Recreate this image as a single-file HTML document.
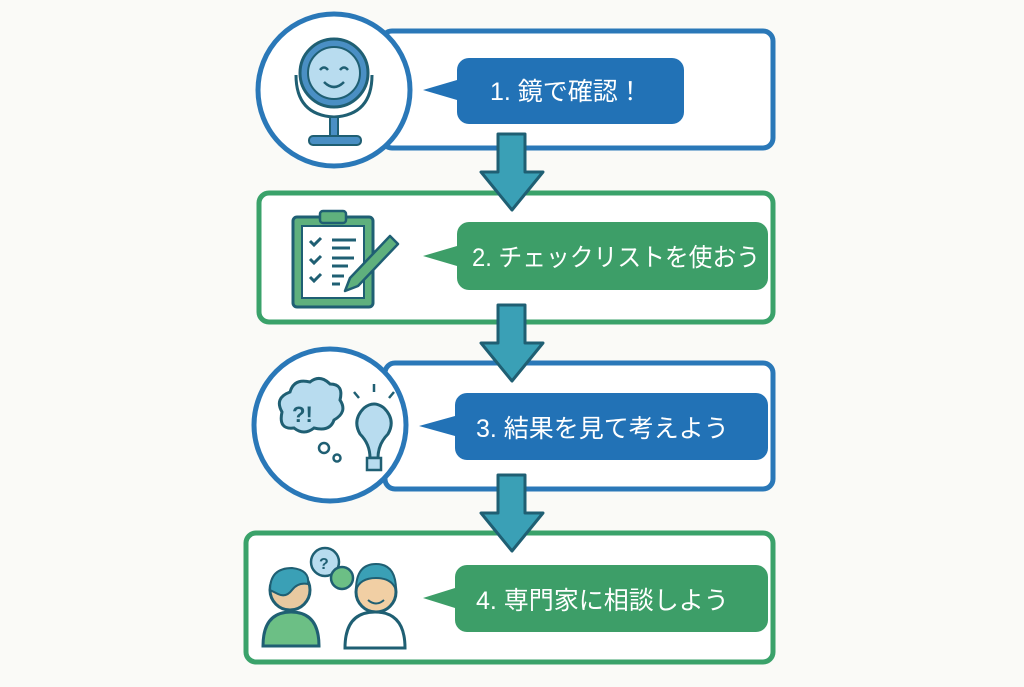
<!DOCTYPE html>
<html><head><meta charset="utf-8"><style>
html,body{margin:0;padding:0;background:#fafaf7;}
svg{display:block}
text{font-family:"Liberation Sans","Noto Sans CJK JP",sans-serif;font-weight:normal;fill:#fff;font-size:25px}
</style></head><body>
<svg width="1024" height="687" viewBox="0 0 1024 687">
<rect width="1024" height="687" fill="#fafaf7"/>
<rect x="382" y="31" width="391" height="117" rx="10" fill="#fff" stroke="#2a78b8" stroke-width="5"/>
<circle cx="334" cy="90" r="76" fill="#fff" stroke="#2a78b8" stroke-width="5"/>
<path d="M457 70 a12 12 0 0 1 12 -12 h203 a12 12 0 0 1 12 12 v42 a12 12 0 0 1 -12 12 h-203 a12 12 0 0 1 -12 -12 v-12 l-34 -10 l34 -10z" fill="#2272b6"/>
<text x="490" y="100">1. 鏡で確認！</text>
<path d="M296 75 q0 40 38 42 q38 -2 38 -42" fill="none" stroke="#1f5f73" stroke-width="3"/>
<circle cx="334" cy="73" r="34" fill="#4a8fc4" stroke="#1f5f73" stroke-width="3"/>
<circle cx="334" cy="73" r="26" fill="#b8dcef" stroke="#1f5f73" stroke-width="2"/>
<path d="M320 70 q4 -5 8 0 M340 70 q4 -5 8 0 M324 82 q10 10 20 0" fill="none" stroke="#1f5f73" stroke-width="2.5"/>
<rect x="330" y="117" width="8" height="20" fill="#4a8fc4" stroke="#1f5f73" stroke-width="2"/>
<rect x="309" y="136" width="52" height="9" rx="4" fill="#4a8fc4" stroke="#1f5f73" stroke-width="2"/>
<rect x="259" y="193" width="514" height="129" rx="10" fill="#fff" stroke="#3aa26a" stroke-width="5"/>
<path d="M457 234 a12 12 0 0 1 12 -12 h287 a12 12 0 0 1 12 12 v44 a12 12 0 0 1 -12 12 h-287 a12 12 0 0 1 -12 -12 v-12 l-34 -10 l34 -10z" fill="#3d9e68"/>
<text x="472" y="266" textLength="288" lengthAdjust="spacingAndGlyphs">2. チェックリストを使おう</text>
<rect x="293" y="217" width="80" height="90" rx="4" fill="#5fb07d" stroke="#1f5f73" stroke-width="3"/>
<rect x="302" y="226" width="62" height="72" fill="#fff" stroke="#1f5f73" stroke-width="2"/>
<rect x="320" y="211" width="26" height="12" rx="3" fill="#5fb07d" stroke="#1f5f73" stroke-width="2.5"/>
<path d="M310 241 l4 4 l7 -7 M310 259 l4 4 l7 -7 M310 277 l4 4 l7 -7 M332 240 h24 M332 248 h18 M332 258 h22 M332 266 h16 M332 276 h12 M332 284 h8" fill="none" stroke="#1f5f73" stroke-width="3"/>
<path d="M390 236 l8 8 l-40 42 l-13 5 l5 -13z" fill="#5fb07d" stroke="#1f5f73" stroke-width="2.5" stroke-linejoin="round"/>
<rect x="385" y="363" width="388" height="126" rx="10" fill="#fff" stroke="#2a78b8" stroke-width="5"/>
<circle cx="330" cy="425" r="76" fill="#fff" stroke="#2a78b8" stroke-width="5"/>
<path d="M455 405 a12 12 0 0 1 12 -12 h289 a12 12 0 0 1 12 12 v43 a12 12 0 0 1 -12 12 h-289 a12 12 0 0 1 -12 -12 v-12 l-36 -10 l36 -10z" fill="#2272b6"/>
<text x="476" y="437">3. 結果を見て考えよう</text>
<path d="M282 412 q-8 -14 8 -20 q4 -14 20 -10 q10 -8 20 2 q14 0 10 16 q8 12 -6 20 q-4 12 -20 8 q-10 8 -20 0 q-16 2 -12 -16z" fill="#b8dcef" stroke="#1f5f73" stroke-width="3"/>
<text x="292" y="422" style="fill:#1f5f73;font-size:22px;font-weight:bold">?!</text>
<circle cx="324" cy="448" r="5" fill="#fff" stroke="#1f5f73" stroke-width="2.5"/>
<circle cx="337" cy="458" r="3.5" fill="#fff" stroke="#1f5f73" stroke-width="2.5"/>
<path d="M370 458 q0 -14 -10 -24 q-8 -14 4 -26 q10 -8 20 0 q12 12 4 26 q-10 10 -10 24z" fill="#b8dcef" stroke="#1f5f73" stroke-width="3"/>
<rect x="367" y="458" width="14" height="12" fill="#b8dcef" stroke="#1f5f73" stroke-width="2.5"/>
<path d="M374 392 v-8 M359 398 l-5 -6 M389 398 l5 -6" stroke="#1f5f73" stroke-width="2.5"/>
<rect x="246" y="533" width="527" height="129" rx="10" fill="#fff" stroke="#3aa26a" stroke-width="5"/>
<path d="M455 577 a12 12 0 0 1 12 -12 h289 a12 12 0 0 1 12 12 v43 a12 12 0 0 1 -12 12 h-289 a12 12 0 0 1 -12 -12 v-12 l-32 -10 l32 -10z" fill="#3d9e68"/>
<text x="476" y="609">4. 専門家に相談しよう</text>
<path d="M263 646 q0 -34 28 -34 q28 0 28 34z" fill="#6cbf85" stroke="#1f5f73" stroke-width="3"/>
<circle cx="290" cy="590" r="20" fill="#e8c9a0" stroke="#1f5f73" stroke-width="3"/>
<path d="M270 590 q0 -22 22 -22 q18 2 16 16 q-10 -2 -16 6 q-6 8 -14 4z" fill="#3aa0b6" stroke="#1f5f73" stroke-width="2"/>
<circle cx="325" cy="562" r="14" fill="#b8dcef" stroke="#1f5f73" stroke-width="2.5"/>
<text x="319" y="569" style="fill:#1f5f73;font-size:16px;font-weight:bold">?</text>
<circle cx="342" cy="578" r="11" fill="#6cbf85" stroke="#1f5f73" stroke-width="2.5"/>
<path d="M345 648 q0 -36 30 -36 q30 0 30 36z" fill="#fff" stroke="#1f5f73" stroke-width="3"/>
<circle cx="376" cy="592" r="20" fill="#f1cfa4" stroke="#1f5f73" stroke-width="3"/>
<path d="M356 590 q0 -26 20 -26 q20 0 20 26 q-4 -12 -20 -12 q-16 0 -20 12z" fill="#3aa0b6" stroke="#1f5f73" stroke-width="2"/>
<path d="M368 600 q8 7 16 0" fill="none" stroke="#1f5f73" stroke-width="2"/>
<path d="M498 134 h27 v38 h18 l-31 38 l-31 -38 h17z" fill="#3aa0b6" stroke="#1f5f73" stroke-width="3" stroke-linejoin="round"/>
<path d="M498 305 h27 v38 h18 l-31 38 l-31 -38 h17z" fill="#3aa0b6" stroke="#1f5f73" stroke-width="3" stroke-linejoin="round"/>
<path d="M498 475 h27 v38 h18 l-31 38 l-31 -38 h17z" fill="#3aa0b6" stroke="#1f5f73" stroke-width="3" stroke-linejoin="round"/>
</svg>
</body></html>
